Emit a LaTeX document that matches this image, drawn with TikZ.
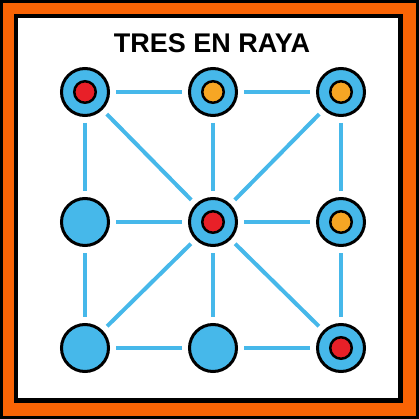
\documentclass[tikz,border=0pt]{standalone}
\usepackage{fontspec}
\setmainfont{Liberation Sans}
\usepackage{tikz}

\definecolor{frameorange}{RGB}{250,100,5}
\definecolor{boardblue}{RGB}{70,184,234}
\definecolor{markred}{RGB}{232,32,40}
\definecolor{markorange}{RGB}{246,166,36}

\begin{document}
\begin{tikzpicture}[x=1pt, y=-1pt,
    piece/.style={circle, draw=black, line width=3pt, fill=boardblue,
      minimum size=47pt, inner sep=0pt},
    token/.style={circle, draw=black, line width=2.5pt,
      minimum size=21.5pt, inner sep=0pt},
    link/.style={boardblue, line width=4pt, shorten >=6pt, shorten <=6pt}]
  \useasboundingbox (0,0) rectangle (419,419);
  % frame
  \fill[black] (0,0) rectangle (419,419);
  \fill[frameorange] (3,3) rectangle (416,416);
  \fill[black] (14,14) rectangle (403,403);
  \fill[white] (18,18) rectangle (398,398);
  \node[font=\fontsize{27}{30}\selectfont\bfseries] (title) at (212,43.5) {TRES EN RAYA};
  % board
  \node[piece] (a1) at (85,92) {};
  \node[piece] (a2) at (213,92) {};
  \node[piece] (a3) at (341,92) {};
  \node[piece] (b1) at (85,222) {};
  \node[piece] (b2) at (213,222) {};
  \node[piece] (b3) at (341,222) {};
  \node[piece] (c1) at (85,348) {};
  \node[piece] (c2) at (213,348) {};
  \node[piece] (c3) at (341,348) {};
  \foreach \p/\q in {a1/a2, a2/a3, b1/b2, b2/b3, c1/c2, c2/c3,
      a1/b1, b1/c1, a2/b2, b2/c2, a3/b3, b3/c3,
      a1/b2, b2/c3, a3/b2, b2/c1}
    \draw[link] (\p) -- (\q);
  % tokens
  \node[token, fill=markred] at (a1) {};
  \node[token, fill=markorange] at (a2) {};
  \node[token, fill=markorange] at (a3) {};
  \node[token, fill=markred] at (b2) {};
  \node[token, fill=markorange] at (b3) {};
  \node[token, fill=markred] at (c3) {};
\end{tikzpicture}
\end{document}
